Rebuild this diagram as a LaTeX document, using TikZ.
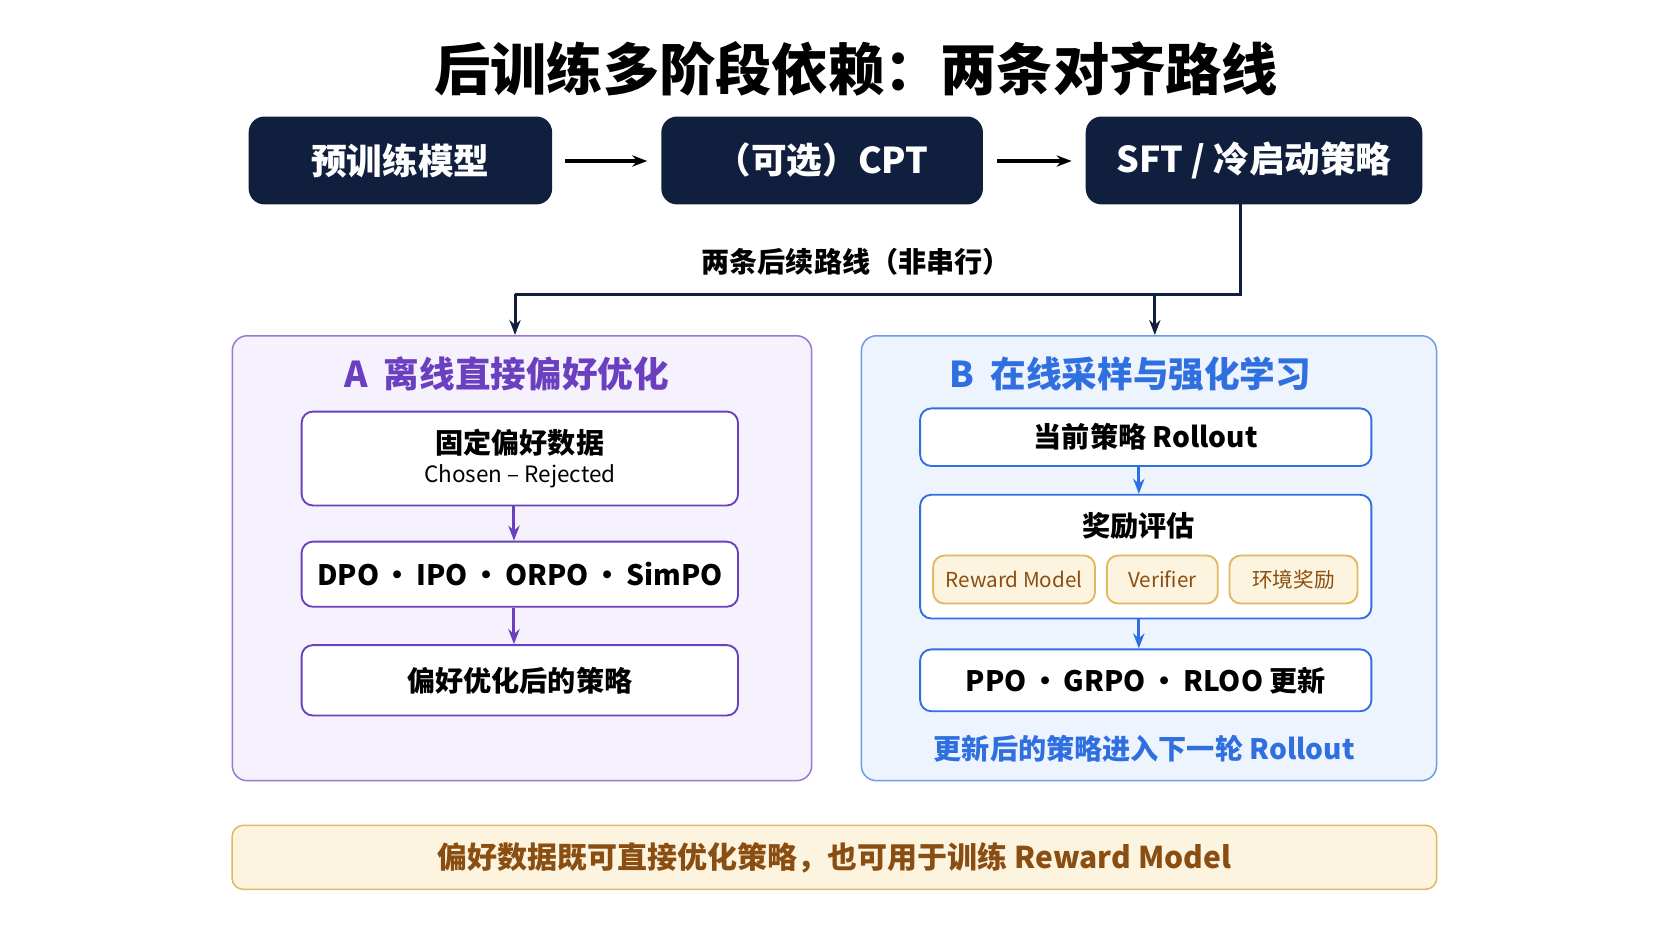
\documentclass[tikz,border=0pt]{standalone}
\usepackage{fontspec}
\setmainfont{Noto Sans CJK SC}
\usetikzlibrary{arrows.meta}
\definecolor{navy}{HTML}{0F1F3D}
\definecolor{pur}{HTML}{6A3FC0}
\definecolor{purbg}{HTML}{F6F2FD}
\definecolor{blu}{HTML}{2F6FE0}
\definecolor{blubg}{HTML}{EEF4FE}
\definecolor{gold}{HTML}{E2B860}
\definecolor{goldbg}{HTML}{FCF4DF}
\definecolor{brn}{HTML}{8A4E12}
\tikzset{
	top/.style={draw=navy,fill=navy,rounded corners=4pt,text=white,font=\fontsize{9.5}{11}\selectfont\bfseries},
	pbox/.style={draw=pur,fill=white,rounded corners=3pt,line width=0.5pt,font=\fontsize{7.5}{9}\selectfont\bfseries},
	bbox/.style={draw=blu,fill=white,rounded corners=3pt,line width=0.5pt,font=\fontsize{7.5}{9}\selectfont\bfseries},
	obox/.style={draw=gold,fill=goldbg,rounded corners=3pt,line width=0.5pt,text=brn,font=\fontsize{5.5}{6.5}\selectfont},
	>={Stealth[length=4pt]}
}
\begin{document}
\begin{tikzpicture}[x=0.01cm,y=-0.01cm]
	\useasboundingbox[fill=white] (0,0) rectangle (1568,882);
	\node[font=\fontsize{15}{18}\selectfont\bfseries] (title) at (803,65) {后训练多阶段依赖：两条对齐路线};

	% top row
	\node[top,minimum width=2.83cm,minimum height=0.81cm] (pre) at (375.5,150.5) {预训练模型};
	\node[top,minimum width=3.0cm,minimum height=0.81cm] (cpt) at (771,150.5) {（可选）CPT};
	\node[top,minimum width=3.14cm,minimum height=0.81cm] (sft) at (1176,150.5) {SFT / 冷启动策略};
	\draw[->,line width=1pt] (530,151) -- (607,151);
	\draw[->,line width=1pt] (935,151) -- (1005,151);

	% panels
	\node[draw=pur!70,fill=purbg,rounded corners=4pt,minimum width=5.43cm,minimum height=4.17cm] (pa) at (489.5,523.5) {};
	\node[draw=blu!70,fill=blubg,rounded corners=4pt,minimum width=5.39cm,minimum height=4.17cm] (pb) at (1077.5,523.5) {};
	\coordinate (split) at (1163,276);
	\coordinate (ja) at (483,276);
	\coordinate (jb) at (1083,276);
	\draw[line width=0.8pt,navy] (sft.south -| split) -- (split) -- (ja);
	\draw[->,line width=0.8pt,navy] (ja) -- (ja |- pa.north);
	\draw[->,line width=0.8pt,navy] (jb) -- (jb |- pb.north);
	\node[fill=white,font=\fontsize{7.5}{9}\selectfont\bfseries] (lbl) at (803,246) {两条后续路线（非串行）};

	\node[text=pur,font=\fontsize{9.5}{11}\selectfont\bfseries] (ta) at (475,351) {A\ \ 离线直接偏好优化};
	\node[text=blu,font=\fontsize{9.5}{11}\selectfont\bfseries] (tb) at (1060,351) {B\ \ 在线采样与强化学习};

	% route A
	\node[pbox,minimum width=4.09cm,minimum height=0.88cm,align=center] (a1) at (487.5,430) {固定偏好数据\\[-1pt]{\fontsize{6}{7}\selectfont\mdseries Chosen -- Rejected}};
	\node[pbox,minimum width=4.09cm,minimum height=0.61cm] (a2) at (487.5,538.5) {DPO\,·\,IPO\,·\,ORPO\,·\,SimPO};
	\node[pbox,minimum width=4.09cm,minimum height=0.66cm] (a3) at (487.5,638) {偏好优化后的策略};
	\coordinate (xa) at (482,0);
	\draw[->,pur,line width=0.8pt] (a1.south -| xa) -- (a2.north -| xa);
	\draw[->,pur,line width=0.8pt] (a2.south -| xa) -- (a3.north -| xa);

	% route B
	\node[bbox,minimum width=4.23cm,minimum height=0.54cm] (b1) at (1074.5,410) {当前策略 Rollout};
	\node[bbox,minimum width=4.23cm,minimum height=1.16cm] (b2) at (1074.5,522) {};
	\node[font=\fontsize{7.5}{9}\selectfont\bfseries] (b2t) at (1068,493) {奖励评估};
	\node[obox,minimum width=1.5cm,minimum height=0.45cm] (o1) at (951,543.5) {Reward Model};
	\node[obox,minimum width=1.04cm,minimum height=0.45cm] (o2) at (1090,543.5) {Verifier};
	\node[obox,minimum width=1.2cm,minimum height=0.45cm] (o3) at (1213,543.5) {环境奖励};
	\node[bbox,minimum width=4.23cm,minimum height=0.58cm] (b3) at (1074.5,638) {PPO\,·\,GRPO\,·\,RLOO 更新};
	\coordinate (xb) at (1068,0);
	\draw[->,blu,line width=0.8pt] (b1.south -| xb) -- (b2.north -| xb);
	\draw[->,blu,line width=0.8pt] (b2.south -| xb) -- (b3.north -| xb);
	\node[text=blu,font=\fontsize{7.5}{9}\selectfont\bfseries] (bn) at (1073,702) {更新后的策略进入下一轮 Rollout};

	% bottom note
	\node[draw=gold,fill=goldbg,rounded corners=3pt,minimum width=11.29cm,minimum height=0.6cm,text=brn,font=\fontsize{8}{10}\selectfont\bfseries] (note) at (782.5,804) {偏好数据既可直接优化策略，也可用于训练 Reward Model};
\end{tikzpicture}
\end{document}
